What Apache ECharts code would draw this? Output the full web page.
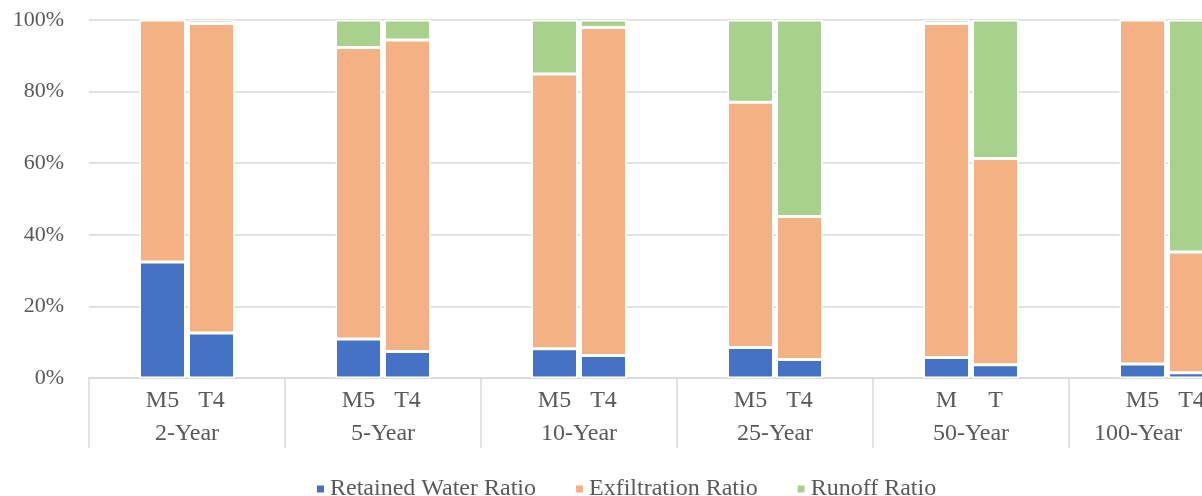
<!DOCTYPE html>
<html>
<head>
<meta charset="utf-8">
<script src="https://cdn.jsdelivr.net/npm/echarts@6/dist/echarts.min.js"></script>
<style>
  html, body { margin: 0; padding: 0; background: #fff; }
  #main { width: 1202px; height: 496px; }
</style>
</head>
<body>
<div id="main"></div>
<script>
// each storm group has 4 slots: blank, M5, T4, blank
const groups = ['2-Year', '5-Year', '10-Year', '25-Year', '50-Year', '100-Year']
const subLabels = [
  '', 'M5', 'T4', '',
  '', 'M5', 'T4', '',
  '', 'M5', 'T4', '',
  '', 'M5', 'T4', '',
  '', 'M', 'T', '',
  '', 'M5', 'T4', ''
]
const retained = [
  null, 32.4, 12.6, null,
  null, 10.9, 7.4, null,
  null, 8.2, 6.3, null,
  null, 8.5, 5.2, null,
  null, 5.7, 3.7, null,
  null, 3.9, 1.5, null
]
const exfiltration = [
  null, 67.6, 86.4, null,
  null, 81.4, 87.0, null,
  null, 76.7, 91.6, null,
  null, 68.5, 39.9, null,
  null, 93.3, 57.6, null,
  null, 96.1, 33.7, null
]
const runoff = [
  null, 0, 1.0, null,
  null, 7.7, 5.6, null,
  null, 15.1, 2.1, null,
  null, 23.0, 54.9, null,
  null, 1.0, 38.7, null,
  null, 0, 64.8, null
]

const font = 'Liberation Serif'
const gray = '#595959'
const lineGray = '#d9d9d9'

let myChart = echarts.init(document.getElementById('main'))

function bar(name, data, color) {
  return {
    name: name,
    type: 'bar',
    stack: 'total',
    data: data,
    barWidth: 46,
    itemStyle: { color: color, borderColor: '#fff', borderWidth: 1.5 }
  }
}

// last group label is pushed left so it stays inside the picture
let groupData = groups.map(function (g, i) {
  if (i === groups.length - 1) {
    return { value: g, textStyle: { padding: [0, 58, 0, 0] } }
  }
  return g
})

let option = {
  animation: false,
  textStyle: { fontFamily: font },
  // the original plot runs past the right edge of the picture
  grid: { left: 89, width: 1176, top: 20, height: 358, containLabel: false, outerBoundsMode: 'none' },
  legend: {
    left: 310,
    top: 472,
    icon: 'rect',
    itemWidth: 9,
    itemHeight: 9,
    itemGap: 38,
    textStyle: { fontFamily: font, fontSize: 24, color: gray }
  },
  xAxis: [
    {
      type: 'category',
      data: subLabels,
      axisLine: { lineStyle: { color: lineGray, width: 1.5 } },
      axisTick: { show: false },
      axisLabel: { interval: 0, margin: 11, fontSize: 24, color: gray, fontFamily: font }
    },
    {
      type: 'category',
      position: 'bottom',
      data: groupData,
      axisLine: { show: false },
      axisTick: { show: true, length: 70, interval: 0, lineStyle: { color: lineGray, width: 1.5 } },
      axisLabel: { interval: 0, margin: 44, fontSize: 24, color: gray, fontFamily: font }
    }
  ],
  yAxis: {
    type: 'value',
    min: 0,
    max: 100,
    interval: 20,
    axisLine: { show: false },
    axisTick: { show: false },
    axisLabel: { formatter: '{value}%', margin: 25, fontSize: 22, color: gray, fontFamily: font },
    splitLine: { lineStyle: { color: lineGray, width: 1.5 } }
  },
  series: [
    bar('Retained Water Ratio', retained, '#4472c4'),
    bar('Exfiltration Ratio', exfiltration, '#f4b183'),
    bar('Runoff Ratio', runoff, '#a9d18e')
  ]
}
myChart.setOption(option)
</script>
</body>
</html>
